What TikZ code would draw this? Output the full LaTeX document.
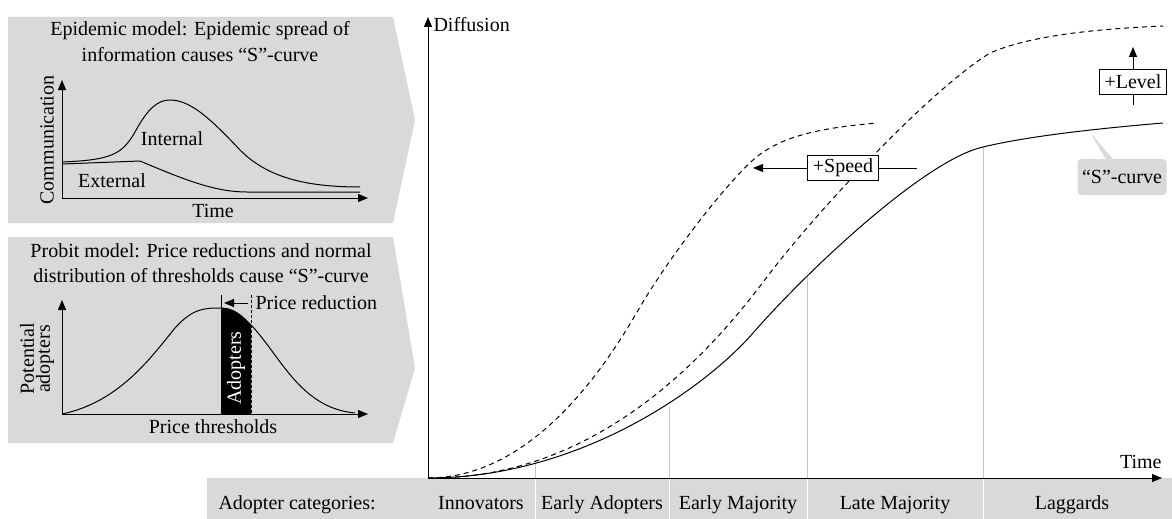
\documentclass[tikz,border=0pt]{standalone}
\usepackage{fontspec}
\setmainfont{Liberation Serif}
\usetikzlibrary{arrows.meta,shapes.callouts}
\definecolor{panelgray}{HTML}{D9D9D9}
\definecolor{sepgray}{HTML}{C8C8C8}

\begin{document}
\begin{tikzpicture}[x=1pt,y=-1pt,line width=1pt,
    font=\fontsize{20}{24}\selectfont,
    tip/.style={-{Triangle[length=10pt,width=8pt]}},
    dashcurve/.style={dash pattern=on 5pt off 4pt},
    sep/.style={sepgray,line width=1pt},
    tag/.style={draw,fill=white,inner xsep=5pt,inner ysep=2pt,minimum height=25pt}]
   \useasboundingbox (0,0) rectangle (1172,519);
   % grey panels
   \fill[panelgray] (8,17) -- (393,17) -- (415,120) -- (393,223) -- (8,223) -- cycle;
   \fill[panelgray] (8,237) -- (393,237) -- (415,368) -- (393,443) -- (8,443) -- cycle;
   \fill[panelgray] (207,478) rectangle (1172,519);

   % epidemic model
   \node (epiA) at (200,36) [anchor=base] {Epidemic model: Epidemic spread of};
   \node (epiB) at (200,62) [anchor=base] {information causes ``S''-curve};
   \coordinate (eo) at (62,198);
   \coordinate (ey) at (62,80);
   \coordinate (ex) at (368,198);
   \draw[tip] (eo) -- (ey);
   \draw[tip] (eo) -- (ex);
   \node (comm) at (47,140) [rotate=90] {Communication};
   \node (etime) at (213,217) [anchor=base] {Time};
   \draw (62,162) .. controls (110,160) and (122,155) .. (135,132)
      .. controls (148,108) and (158,100) .. (170,100)
      .. controls (190,100) and (210,118) .. (240,150)
      .. controls (265,175) and (300,187) .. (360,187);
   \draw (62,164) -- (140,161) .. controls (185,180) and (215,192) .. (247,192) -- (360,192);
   \node (internal) at (172,139) {Internal};
   \node (external) at (112,181) {External};

   % probit model
   \node (proA) at (201,257) [anchor=base] {Probit model: Price reductions and normal};
   \node (proB) at (201,282) [anchor=base] {distribution of thresholds cause ``S''-curve};
   \coordinate (po) at (62,414);
   \coordinate (py) at (62,300);
   \coordinate (px) at (368,414);
   \fill (221,414) -- (221,308) .. controls (234,308) and (242,316) .. (251,325) -- (251,414) -- cycle;
   \draw[tip] (po) -- (py);
   \draw[tip] (po) -- (px);
   \draw (62,414) .. controls (120,402) and (152,356) .. (175,328)
      .. controls (193,308) and (205,308) .. (221,308)
      .. controls (234,308) and (242,316) .. (251,325)
      .. controls (280,355) and (300,408) .. (355,413);
   \draw (221,295) -- (221,414);
   \draw[dash pattern=on 3pt off 2pt] (251,295) -- (251,414);
   \draw[tip] (248,303) -- (224,303);
   \node (reduction) at (255,309) [anchor=base west,inner sep=0pt] {Price reduction};
   \node (adopters) at (236,368) [rotate=90,white] {Adopters};
   \node (potential) at (37,359) [rotate=90,align=center,font=\fontsize{20}{16}\selectfont] {Potential\\adopters};
   \node (thresholds) at (213,433) [anchor=base] {Price thresholds};

   % diffusion plot
   \foreach \x/\y in {535/463,669/407,807/276,983/147} {
      \draw[sep] (\x,\y) -- (\x,478);
      \draw[white] (\x,478) -- (\x,519);
   }
   \coordinate (origin) at (428,478);
   \coordinate (ytop) at (428,17);
   \coordinate (xend) at (1162,478);
   \draw[tip] (origin) -- (ytop);
   \draw[tip] (origin) -- (xend);
   \node (diffusion) at (433,32) [anchor=base west,inner sep=0pt] {Diffusion};
   \node (time) at (1162,468) [anchor=base east,inner sep=0pt] {Time};
   \node (cats) at (218,509) [anchor=base west,inner sep=0pt] {Adopter categories:};
   \foreach \x/\t [count=\i] in {481/Innovators,602/Early Adopters,738/Early Majority,
      895/Late Majority,1072/Laggards}
      \node (cat\i) at (\x,509) [anchor=base] {\t};

   \draw (origin) .. controls (580,478) and (705,388) .. (753,333)
      .. controls (808,270) and (925,160) .. (983,147)
      .. controls (1020,138) and (1080,130) .. (1163,123);
   \draw[dashcurve] (origin) .. controls (540,478) and (615,350) .. (640,307)
      .. controls (670,256) and (725,185) .. (753,160)
      .. controls (780,136) and (820,128) .. (877,123);
   \draw[dashcurve] (origin) .. controls (610,480) and (725,333) .. (770,273)
      .. controls (820,208) and (930,90) .. (990,53)
      .. controls (1020,40) and (1070,30) .. (1163,26);

   \node (speed) at (843,168) [tag] {+Speed};
   \coordinate (speedend) at (917,168);
   \coordinate (speedtip) at (753,168);
   \draw (speed.east) -- (speedend);
   \draw[tip] (speed.west) -- (speedtip);

   \node (level) at (1133,82) [tag] {+Level};
   \coordinate (levelfoot) at (1133,105);
   \coordinate (leveltip) at (1133,47);
   \draw (levelfoot) -- (level.south);
   \draw[tip] (level.north) -- (leveltip);

   \node (scurve) at (1122,177) [rectangle callout,fill=panelgray,rounded corners=4pt,
      callout absolute pointer={(1090,132)},inner sep=4pt,minimum height=36pt,
      minimum width=89pt] {``S''-curve};
  \end{tikzpicture}
\end{document}
